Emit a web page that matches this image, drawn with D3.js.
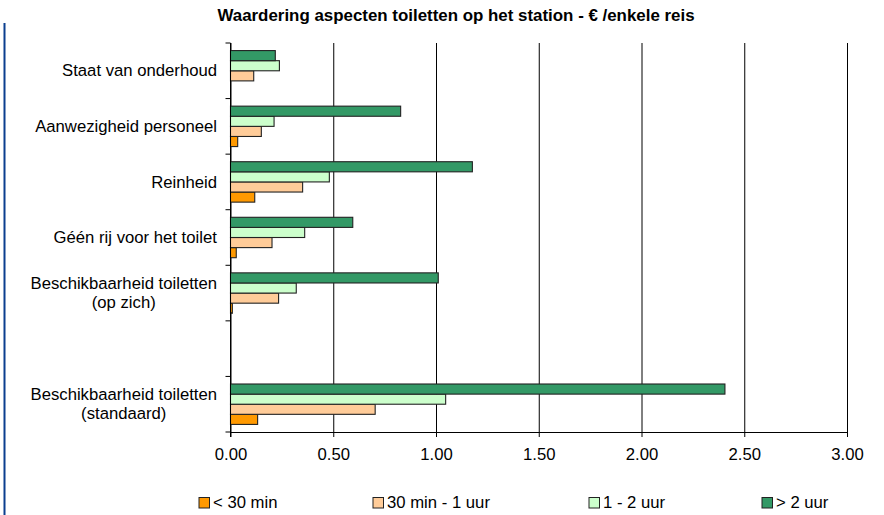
<!DOCTYPE html>
<html>
<head>
<meta charset="utf-8">
<script src="https://cdn.jsdelivr.net/npm/d3@7"></script>
<style>
  html, body { margin: 0; padding: 0; background: #fff; }
  svg { display: block; }
  text { font-family: "Liberation Sans", Arial, sans-serif; fill: #000; }
</style>
</head>
<body>
<svg id="chart" width="884" height="515"></svg>
<script>
// ---- data ----
const title = "Waardering aspecten toiletten op het station - € /enkele reis";
const categories = [
  "Staat van onderhoud",
  "Aanwezigheid personeel",
  "Reinheid",
  "Géén rij voor het toilet",
  "Beschikbaarheid toiletten\n(op zich)",
  " ",
  "Beschikbaarheid toiletten\n(standaard)"
];
const seriesNames = ["< 30 min", "30 min - 1 uur", "1 - 2 uur", "> 2 uur"];
const seriesColors = ["#FF9900", "#FFCC99", "#CCFFCC", "#339966"];
const lt30 = [null, 0.035, 0.118, 0.028, 0.009, null, 0.132];
const min30to1 = [0.113, 0.150, 0.351, 0.202, 0.234, null, 0.704];
const uur1to2 = [0.238, 0.212, 0.481, 0.361, 0.320, null, 1.047];
const gt2 = [0.218, 0.828, 1.177, 0.595, 1.011, null, 2.406];
const seriesValues = [lt30, min30to1, uur1to2, gt2];
const xTicks = [0, 0.5, 1.0, 1.5, 2.0, 2.5, 3.0];

// ---- layout ----
const svg = d3.select("#chart");
const plotLeft = 230.5, plotRight = 847, plotTop = 43, plotBottom = 432;
const fontSize = 16.7;

svg.append("rect").attr("width", 884).attr("height", 515).attr("fill", "#fff");
// left border line
svg.append("line").attr("x1", 4.5).attr("x2", 4.5).attr("y1", 23).attr("y2", 515)
  .attr("stroke", "#0b3f8f").attr("stroke-width", 2);

// title
svg.append("text").attr("x", 456).attr("y", 20.5).attr("text-anchor", "middle")
  .style("font-size", "16.9px").style("font-weight", "bold").text(title);

const x = d3.scaleLinear().domain([0, 3]).range([plotLeft, plotRight]);
const y0 = d3.scaleBand().domain(categories).range([plotTop, plotBottom]).paddingInner(0).paddingOuter(0);
// draw order top-to-bottom: > 2 uur, 1 - 2 uur, 30 min - 1 uur, < 30 min
const y1 = d3.scaleBand().domain(seriesNames.slice().reverse()).range([0, y0.bandwidth()])
  .paddingInner(0).paddingOuter(0.75);

// gridlines
const grid = d3.axisBottom(x).tickValues(xTicks).tickSize(-(plotBottom - plotTop)).tickFormat("");
svg.append("g").attr("transform", `translate(0,${plotBottom})`).call(grid)
  .call(g => g.select(".domain").remove())
  .call(g => g.selectAll("line").attr("stroke", "#000").attr("stroke-width", 1));

// bars
const groups = svg.append("g").selectAll("g")
  .data(seriesNames.map((s, i) => ({ name: s, color: seriesColors[i], values: seriesValues[i] })))
  .join("g");
groups.each(function (s) {
  d3.select(this).selectAll("rect")
    .data(categories.map((c, j) => ({ c, v: s.values[j] })).filter(d => d.v != null))
    .join("rect")
    .attr("x", x(0))
    .attr("y", d => y0(d.c) + y1(s.name))
    .attr("width", d => x(d.v) - x(0))
    .attr("height", y1.bandwidth())
    .attr("fill", s.color)
    .attr("stroke", "#222")
    .attr("stroke-width", 1.1);
});

// x axis
const xAxis = d3.axisBottom(x).tickValues(xTicks).tickSize(5).tickPadding(11).tickFormat(d3.format(".2f"));
svg.append("g").attr("transform", `translate(0,${plotBottom})`).call(xAxis)
  .call(g => g.select(".domain").attr("stroke", "#000").attr("d", `M${plotLeft},0.5H${plotRight}`))
  .call(g => g.selectAll("line").attr("stroke", "#000"))
  .call(g => g.selectAll("text").style("font-size", fontSize + "px")
    .style("font-family", '"Liberation Sans", Arial, sans-serif').attr("fill", "#000"));

// y axis line and category ticks
svg.append("line").attr("x1", plotLeft).attr("x2", plotLeft).attr("y1", plotTop).attr("y2", plotBottom + 5)
  .attr("stroke", "#000");
const boundaries = categories.map(c => y0(c)).concat([plotBottom]);
svg.append("g").selectAll("line").data(boundaries).join("line")
  .attr("x1", plotLeft - 5).attr("x2", plotLeft).attr("y1", d => d).attr("y2", d => d)
  .attr("stroke", "#000");

// category labels
const labelRight = 217;
const lab = svg.append("g").style("font-size", fontSize + "px");
categories.forEach(c => {
  const lines = c.split("\n");
  const cy = y0(c) + y0.bandwidth() / 2;
  const t = lab.append("text").attr("text-anchor", "middle");
  const lh = 19;
  lines.forEach((ln, i) => {
    t.append("tspan").attr("x", 0)
      .attr("y", cy + 5.7 + (i - (lines.length - 1) / 2) * lh).text(ln);
  });
  const w = t.node().getBBox().width;
  t.attr("transform", `translate(${labelRight - w / 2},0)`);
});

// legend
const legendX = [199, 373, 589, 762];
const leg = svg.append("g").selectAll("g").data(seriesNames).join("g")
  .attr("transform", (d, i) => `translate(${legendX[i]},497.5)`);
leg.append("rect").attr("width", 10.5).attr("height", 10.5)
  .attr("fill", (d, i) => seriesColors[i]).attr("stroke", "#222").attr("stroke-width", 1);
leg.append("text").attr("x", 14).attr("y", 10.5).style("font-size", fontSize + "px").text(d => d);
</script>
</body>
</html>
